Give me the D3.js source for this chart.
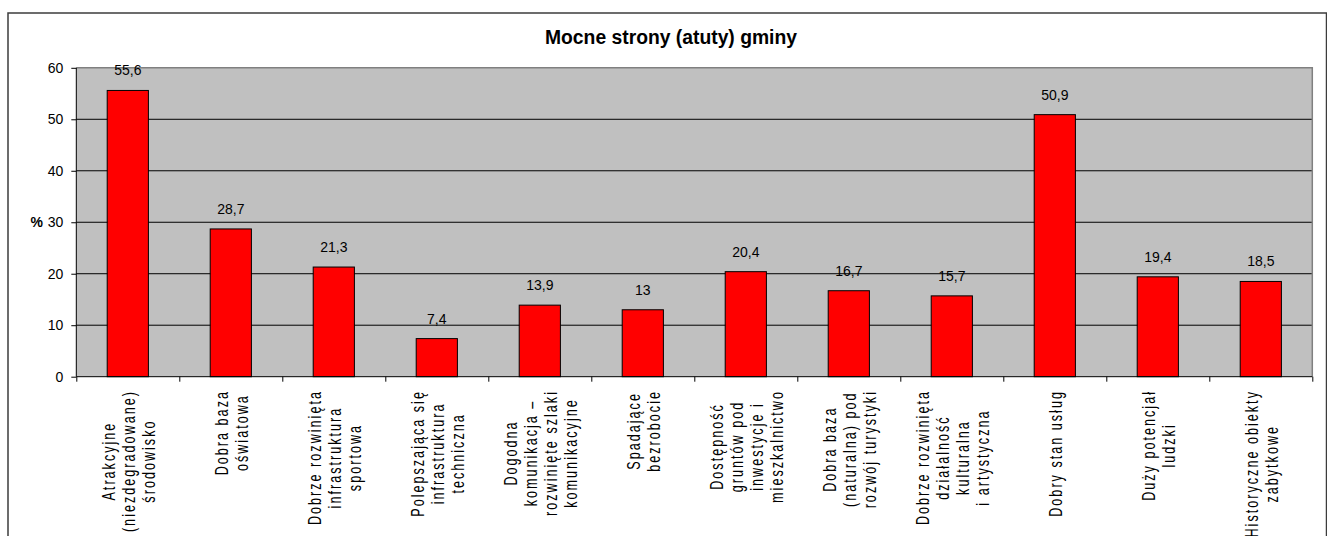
<!DOCTYPE html>
<html>
<head>
<meta charset="utf-8">
<script src="https://cdn.jsdelivr.net/npm/d3@7/dist/d3.min.js"></script>
<style>
  html, body { margin: 0; padding: 0; background: #fff; }
  svg { display: block; }
  text { font-family: "Liberation Sans", Arial, sans-serif; }
</style>
</head>
<body>
<svg id="chart" width="1327" height="536"></svg>
<script>
const title = "Mocne strony (atuty) gminy";
const yAxisLabel = "%";
const categories = [
  ["Atrakcyjne", "(niezdegradowane)", "środowisko"],
  ["Dobra baza", "oświatowa"],
  ["Dobrze rozwinięta", "infrastruktura", "sportowa"],
  ["Polepszająca się", "infrastruktura", "techniczna"],
  ["Dogodna", "komunikacja –", "rozwinięte szlaki", "komunikacyjne"],
  ["Spadające", "bezrobocie"],
  ["Dostępność", "gruntów pod", "inwestycje i", "mieszkalnictwo"],
  ["Dobra baza", "(naturalna) pod", "rozwój turystyki"],
  ["Dobrze rozwinięta", "działalność", "kulturalna", "i artystyczna"],
  ["Dobry stan usług"],
  ["Duży potencjał", "ludzki"],
  ["Historyczne obiekty", "zabytkowe"]
];
const values = [55.6, 28.7, 21.3, 7.4, 13.9, 13, 20.4, 16.7, 15.7, 50.9, 19.4, 18.5];
const yTicks = [0, 10, 20, 30, 40, 50, 60];

const svg = d3.select("#chart");
const plot = { left: 76.3, right: 1312.3, top: 67.8, bottom: 376.7 };

// outer chart border
svg.append("rect")
  .attr("x", 8).attr("y", 13).attr("width", 1318.5).attr("height", 620)
  .attr("fill", "#fff").attr("stroke", "#3c3c3c").attr("stroke-width", 1.5);

const x = d3.scaleBand()
  .domain(d3.range(categories.length))
  .range([plot.left, plot.right])
  .paddingInner(0.6).paddingOuter(0.3);
const xb = d3.scaleLinear().domain([0, categories.length]).range([plot.left, plot.right]);
const y = d3.scaleLinear().domain([0, 60]).range([plot.bottom, plot.top]);

// plot area background
svg.append("rect")
  .attr("x", plot.left).attr("y", plot.top)
  .attr("width", plot.right - plot.left).attr("height", plot.bottom - plot.top)
  .attr("fill", "#c0c0c0");

// gridlines
svg.append("g").selectAll("line")
  .data(yTicks.filter(t => t > 0 && t < 60))
  .join("line")
  .attr("x1", plot.left).attr("x2", plot.right)
  .attr("y1", d => y(d)).attr("y2", d => y(d))
  .attr("stroke", "#000").attr("stroke-width", 1);

// top and right border (gray)
svg.append("path")
  .attr("d", `M${plot.left},${plot.top}H${plot.right}V${plot.bottom}`)
  .attr("fill", "none").attr("stroke", "#808080").attr("stroke-width", 1.5);

// bars
svg.append("g").selectAll("rect")
  .data(values)
  .join("rect")
  .attr("x", (d, i) => x(i))
  .attr("y", d => y(d))
  .attr("width", x.bandwidth())
  .attr("height", d => y(0) - y(d))
  .attr("fill", "#ff0000")
  .attr("stroke", "#000").attr("stroke-width", 1);

// value labels
const fmt = v => String(v).replace(".", ",");
svg.append("g").selectAll("text")
  .data(values)
  .join("text")
  .attr("x", (d, i) => x(i) + x.bandwidth() / 2)
  .attr("y", d => y(d) - 15)
  .attr("text-anchor", "middle")
  .attr("font-size", 14)
  .attr("fill", "#000")
  .text(fmt);

// y axis
const yAxis = svg.append("g")
  .attr("transform", `translate(${plot.left},0)`)
  .call(d3.axisLeft(y).tickValues(yTicks).tickSize(5).tickPadding(8).tickFormat(d3.format("d")));
yAxis.selectAll("text").attr("font-size", 14).attr("fill", "#000").attr("font-family", "Liberation Sans, Arial, sans-serif");
yAxis.selectAll("line").attr("stroke", "#000");
yAxis.select(".domain").attr("stroke", "#000").attr("d", `M0,${plot.top}V${plot.bottom}`);

// x axis (ticks at category boundaries)
const xAxis = svg.append("g")
  .attr("transform", `translate(0,${plot.bottom})`)
  .call(d3.axisBottom(xb).tickValues(d3.range(categories.length + 1)).tickSize(5).tickFormat(""));
xAxis.selectAll("line").attr("stroke", "#000");
xAxis.select(".domain").attr("stroke", "#000").attr("d", `M${plot.left},0H${plot.right}`);

// y axis label
svg.append("text")
  .attr("x", 43).attr("y", y(30)).attr("dy", "0.32em")
  .attr("text-anchor", "end")
  .attr("font-size", 14).attr("font-weight", "bold")
  .text(yAxisLabel);

// title
svg.append("text")
  .attr("x", 671).attr("y", 44)
  .attr("text-anchor", "middle")
  .attr("font-size", 20).attr("font-weight", "bold")
  .attr("textLength", 252).attr("lengthAdjust", "spacingAndGlyphs")
  .text(title);

// category labels (rotated, multi-line, centered, anchored near axis)
const sx = 0.72, lineH = 20, topY = 390;
const catG = svg.append("g");
categories.forEach((lines, i) => {
  const cx = x(i) + x.bandwidth() / 2;
  const g = catG.append("g");
  const texts = g.selectAll("text")
    .data(lines)
    .join("text")
    .attr("x", 0)
    .attr("y", (d, j) => (j - (lines.length - 1) / 2) * lineH + 7.5)
    .attr("text-anchor", "middle")
    .attr("font-size", 17.5)
    .attr("letter-spacing", 2.8)
    .attr("fill", "#000")
    .text(d => d);
  let maxLen = 0;
  texts.each(function () { maxLen = Math.max(maxLen, this.getComputedTextLength()); });
  const len = maxLen * sx;
  g.attr("transform", `translate(${cx},${topY + len / 2}) rotate(-90) scale(${sx},1)`);
});
</script>
</body>
</html>
